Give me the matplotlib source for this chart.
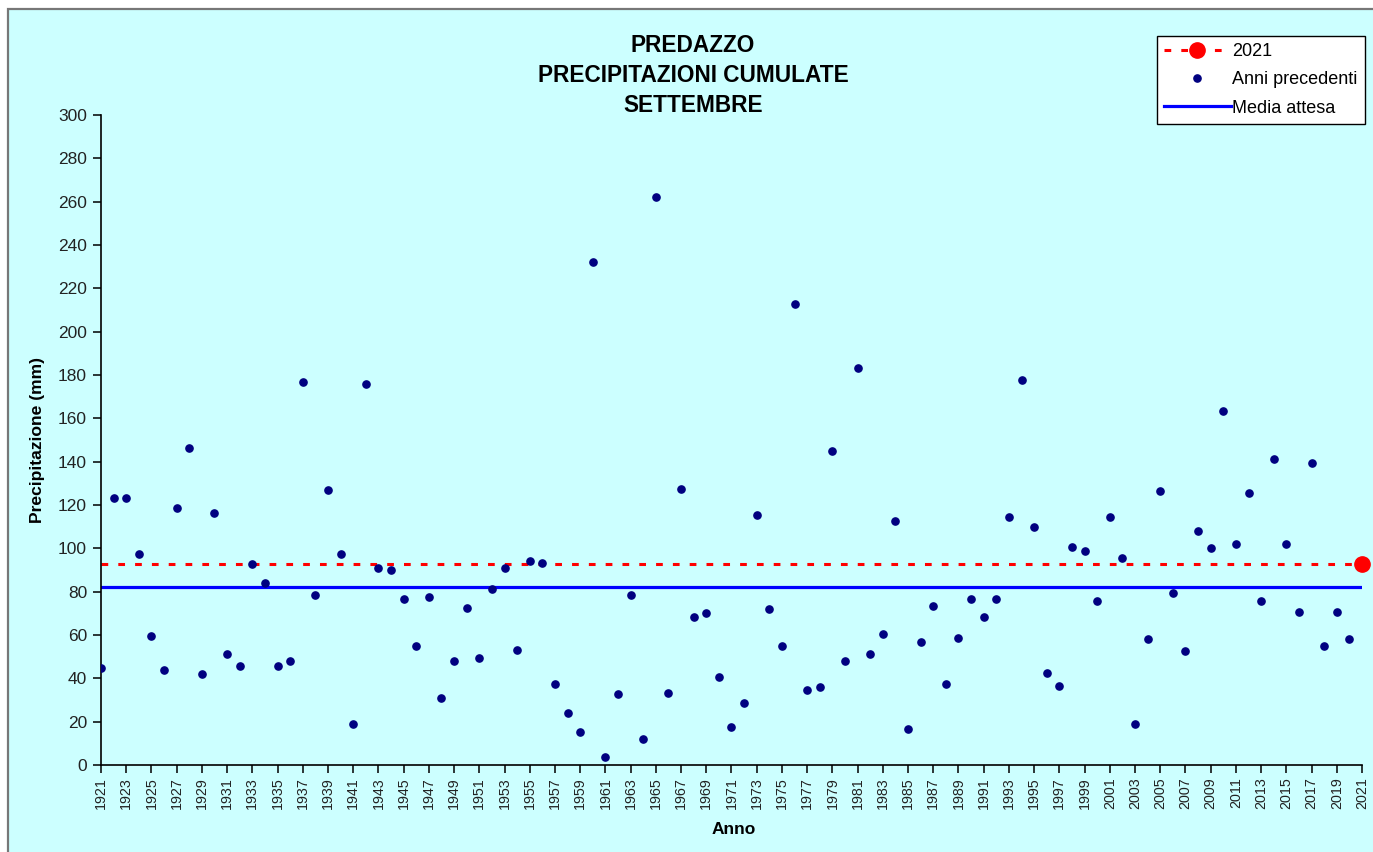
import matplotlib
matplotlib.use("Agg")
import matplotlib.pyplot as plt
from matplotlib.lines import Line2D
from matplotlib.patches import Rectangle

plt.rcParams['font.family'] = ['Liberation Sans', 'DejaVu Sans']

# ---- data ----
years = list(range(1921, 2021))
precip = [45, 123, 123, 97.6, 59.4, 43.8, 118.4, 146.4, 42.2, 116.4,
          51.4, 45.8, 92.6, 84, 45.8, 48.2, 176.8, 78.4, 127, 97.2,
          18.8, 175.8, 91, 90, 76.8, 55, 77.4, 31, 47.8, 72.6,
          49.4, 81.4, 91, 53, 94.2, 93.4, 37.2, 24, 15.2, 232.2,
          3.6, 32.6, 78.4, 12.2, 262.2, 33.2, 127.6, 68.2, 70.2, 40.6,
          17.4, 28.6, 115.4, 72.2, 55, 212.8, 34.6, 36, 144.8, 48.2,
          183.4, 51.4, 60.6, 112.8, 16.4, 57, 73.2, 37.6, 58.4, 76.8,
          68.2, 76.8, 114.4, 177.8, 109.8, 42.6, 36.6, 100.6, 98.6, 75.8,
          114.4, 95.6, 18.8, 58, 126.6, 79.2, 52.8, 107.8, 100.2, 163.6,
          102.2, 125.6, 75.8, 141.2, 102.2, 70.6, 139.2, 55, 70.6, 58]
current_year = 2021
current_value = 92.8
mean_value = 82.2
tick_years = list(range(1921, 2022, 2))
y_ticks = list(range(0, 301, 20))

title_lines = ["PREDAZZO", "PRECIPITAZIONI CUMULATE", "SETTEMBRE"]
labels = ["2021", "Anni precedenti", "Media attesa"]

# ---- figure ----
W, H = 1373, 852
fig = plt.figure(figsize=(W / 100, H / 100), dpi=100)
fig.patch.set_facecolor('white')
bg = '#CCFFFF'
fig.patches.append(Rectangle((8 / W, -0.01), 1.02, (H - 9) / H + 0.01,
                             transform=fig.transFigure, facecolor=bg,
                             edgecolor='#777777', linewidth=1.6, zorder=-5))

ax = fig.add_axes([101 / W, (H - 765) / H, (1362 - 101) / W, (765 - 115) / H])
ax.set_zorder(2)
ax.set_facecolor('none')

first, last = years[0], current_year
ax.plot([first, last], [current_value, current_value], color='#FF0000',
        lw=2.2, ls=(0, (2.2, 3.3)), zorder=2)
ax.plot([first, last], [mean_value, mean_value], color='#0000FF', lw=2.3, zorder=2)
ax.plot(years, precip, ls='none', marker='o', color='#000080', ms=5.2, zorder=3)
ax.plot([current_year], [current_value], ls='none', marker='o', color='#FF0000',
        ms=11, zorder=4, clip_on=False)

ax.set_xlim(first, last)
ax.set_ylim(0, 300)
ax.set_xticks(tick_years)
ax.set_xticklabels([str(y) for y in tick_years], rotation=90, fontsize=10.3)
ax.set_yticks(y_ticks)
ax.set_yticklabels([str(v) for v in y_ticks], fontsize=12.5)
for s in ['top', 'right']:
    ax.spines[s].set_visible(False)
for s in ['left', 'bottom']:
    ax.spines[s].set_color('black')
    ax.spines[s].set_linewidth(1.2)
ax.tick_params(axis='both', direction='out', length=6, width=1.1, colors='black',
               labelcolor='#222222')
ax.tick_params(axis='x', pad=3)
ax.tick_params(axis='y', pad=4)

fig.text(734 / W, 1 - 830 / H, "Anno", ha='center', va='center',
         fontsize=12.5, fontweight='bold')
fig.text(38 / W, 1 - 440 / H, "Precipitazione (mm)", ha='center', va='center',
         rotation=90, fontsize=12.6, fontweight='bold')

for i, line in enumerate(title_lines):
    fig.text(693 / W, 1 - (46 + 29.5 * i) / H, line, ha='center', va='center',
             fontsize=16.3, fontweight='bold')

handles = [
    Line2D([], [], color='#FF0000', lw=2.2, ls=(0, (2.2, 3.3)), marker='o', ms=11),
    Line2D([], [], color='#000080', ls='none', marker='o', ms=5.2),
    Line2D([], [], color='#0000FF', lw=2.3),
]
leg = fig.legend(handles, labels, loc='upper right',
                 bbox_to_anchor=(1365 / W, 1 - 36 / H), borderaxespad=0,
                 fontsize=13, frameon=True, fancybox=False, framealpha=1,
                 edgecolor='black', facecolor='white', handlelength=3.7,
                 handletextpad=0.1, labelspacing=0.62, borderpad=0.4)
leg.get_frame().set_linewidth(1.0)
leg.set_zorder(5)

fig.savefig('out.png', dpi=100, facecolor=fig.get_facecolor())
